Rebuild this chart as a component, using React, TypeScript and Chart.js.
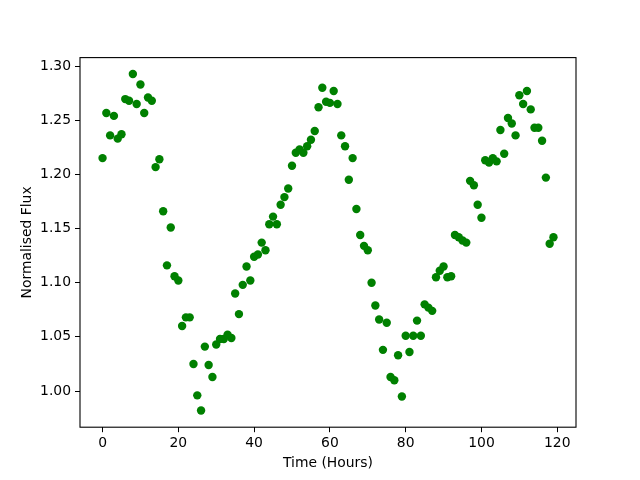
import React, { useEffect, useRef } from "react";
import { Chart, registerables } from "chart.js";

Chart.register(...registerables);

const hours: number[] = Array.from({ length: 120 }, (_, i) => i);

const flux: number[] = [
  1.215, 1.2566, 1.236, 1.254, 1.233, 1.237, 1.2695, 1.268, 1.2926, 1.265,
  1.283, 1.2566, 1.271, 1.268, 1.2067, 1.214, 1.166, 1.116, 1.151, 1.106,
  1.102, 1.06, 1.068, 1.068, 1.025, 0.996, 0.982, 1.041, 1.024, 1.013,
  1.043, 1.048, 1.048, 1.052, 1.049, 1.09, 1.071, 1.098, 1.115, 1.102,
  1.124, 1.126, 1.137, 1.13, 1.154, 1.161, 1.154, 1.172, 1.179, 1.187,
  1.208, 1.22, 1.223, 1.22, 1.226, 1.232, 1.24, 1.262, 1.28, 1.267,
  1.266, 1.277, 1.265, 1.236, 1.226, 1.195, 1.215, 1.168, 1.144, 1.134,
  1.13, 1.1, 1.079, 1.066, 1.038, 1.063, 1.013, 1.01, 1.033, 0.995,
  1.051, 1.036, 1.051, 1.065, 1.051, 1.08, 1.077, 1.074, 1.105, 1.111,
  1.115, 1.105, 1.106, 1.144, 1.142, 1.139, 1.137, 1.194, 1.19, 1.172,
  1.16, 1.213, 1.211, 1.215, 1.212, 1.241, 1.219, 1.252, 1.247, 1.236,
  1.273, 1.265, 1.277, 1.26, 1.243, 1.243, 1.231, 1.197, 1.136, 1.142,
];

const xTicks: number[] = [0, 20, 40, 60, 80, 100, 120];
const yTicks: number[] = [1.0, 1.05, 1.1, 1.15, 1.2, 1.25, 1.3];

const xLabel = "Time (Hours)";
const yLabel = "Normalised Flux";

const FONT = "'DejaVu Sans', sans-serif";

const framePlugin = {
  id: "frame",
  afterDraw(chart: any) {
    const { ctx, chartArea } = chart;
    ctx.save();
    ctx.strokeStyle = "#000";
    ctx.lineWidth = 1.1;
    ctx.strokeRect(
      chartArea.left,
      chartArea.top,
      chartArea.right - chartArea.left,
      chartArea.bottom - chartArea.top
    );
    ctx.restore();
  },
};

export default function App() {
  const ref = useRef<HTMLCanvasElement | null>(null);

  useEffect(() => {
    document.body.style.margin = "0";
    const canvas = ref.current;
    if (!canvas) return;
    const chart = new Chart(canvas, {
      type: "scatter",
      data: {
        datasets: [
          {
            data: hours.map((h, i) => ({ x: h, y: flux[i] })),
            backgroundColor: "#008000",
            borderColor: "#008000",
            borderWidth: 0,
            pointRadius: 4.2,
            pointHoverRadius: 4.2,
          },
        ],
      },
      options: {
        animation: false,
        responsive: false,
        maintainAspectRatio: false,
        layout: { padding: { left: 0, right: 64, top: 57.6, bottom: 0 } },
        plugins: {
          legend: { display: false },
          tooltip: { enabled: false },
        },
        scales: {
          x: {
            type: "linear",
            min: -5.95,
            max: 124.95,
            afterBuildTicks: (scale: any) => {
              scale.ticks = xTicks.map((v) => ({ value: v }));
            },
            afterFit: (scale: any) => {
              scale.height = 52.8;
            },
            grid: {
              drawOnChartArea: false,
              drawTicks: true,
              tickLength: 5,
              color: "#000",
              lineWidth: 1,
            },
            border: { display: false },
            ticks: {
              color: "#000",
              font: { family: FONT, size: 13.9 },
              padding: 3,
              maxRotation: 0,
              autoSkip: false,
              callback: (v: any) => String(v),
            },
            title: {
              display: true,
              text: xLabel,
              color: "#000",
              font: { family: FONT, size: 13.9 },
              padding: { top: 0, bottom: 8.7 },
            },
          },
          y: {
            type: "linear",
            min: 0.9666,
            max: 1.3078,
            afterBuildTicks: (scale: any) => {
              scale.ticks = yTicks.map((v) => ({ value: v }));
            },
            afterFit: (scale: any) => {
              scale.width = 80;
            },
            grid: {
              drawOnChartArea: false,
              drawTicks: true,
              tickLength: 5,
              color: "#000",
              lineWidth: 1,
            },
            border: { display: false },
            ticks: {
              color: "#000",
              font: { family: FONT, size: 13.9 },
              padding: 4,
              autoSkip: false,
              callback: (v: any) => Number(v).toFixed(2),
            },
            title: {
              display: true,
              text: yLabel,
              color: "#000",
              font: { family: FONT, size: 13.9 },
              padding: { top: 18.7, bottom: 0 },
            },
          },
        },
      },
      plugins: [framePlugin],
    });
    return () => chart.destroy();
  }, []);

  return (
    <div style={{ position: "absolute", left: 0, top: 0, width: 640, height: 480, background: "#fff" }}>
      <canvas ref={ref} width={640} height={480} style={{ width: 640, height: 480 }} />
    </div>
  );
}
